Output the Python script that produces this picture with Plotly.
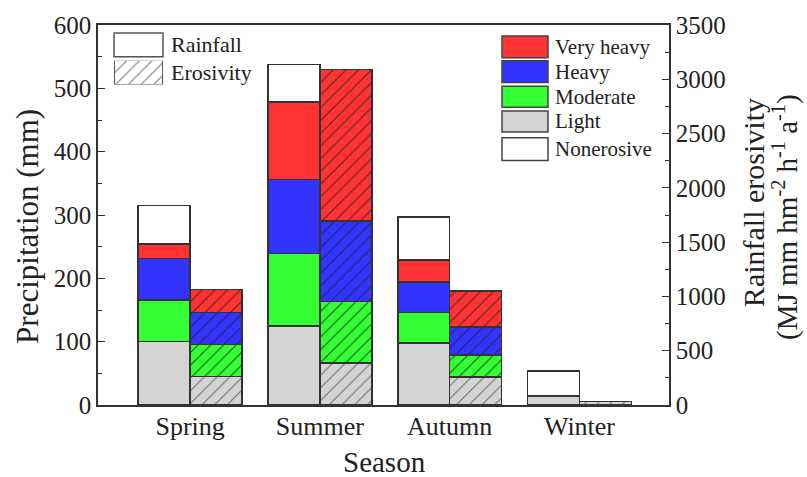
import plotly.graph_objects as go

seasons = ["Spring", "Summer", "Autumn", "Winter"]
classes = ["Light", "Moderate", "Heavy", "Very heavy", "Nonerosive"]
colors = {"Light": "#d4d4d4", "Moderate": "#33ff33", "Heavy": "#3333ff",
          "Very heavy": "#ff3333", "Nonerosive": "#ffffff"}

# Rainfall amount (mm) per rainfall class
rain_light = [100.5, 124.5, 98, 14]
rain_moderate = [65.5, 115, 48, 0]
rain_heavy = [65, 116.3, 48, 0]
rain_veryheavy = [23, 122.8, 35, 0]
rain_nonerosive = [61, 58.9, 68, 39.6]

# Rainfall erosivity (MJ mm hm-2 h-1 a-1) per rainfall class
ero_light = [264, 389, 258, 30]
ero_moderate = [292, 565, 204, 0]
ero_heavy = [294, 741, 255, 0]
ero_veryheavy = [214, 1395, 331, 0]
ero_nonerosive = [0, 0, 0, 0]

rain = dict(zip(classes, [rain_light, rain_moderate, rain_heavy, rain_veryheavy, rain_nonerosive]))
ero = dict(zip(classes, [ero_light, ero_moderate, ero_heavy, ero_veryheavy, ero_nonerosive]))

FONT = "Liberation Serif"
W, H = 807, 477
L, R, T, B = 98, 669, 21, 405

def pxx(x):
    return (x - L) / (R - L)

def pyy(y):
    return (B - y) / (B - T)

fig = go.Figure()
BW = 0.4
for c in classes:
    fig.add_trace(go.Bar(
        x=seasons, y=rain[c], name=c, offset=-BW, width=BW,
        marker=dict(color=colors[c], line=dict(color="#333333", width=1.5)),
        showlegend=False, xaxis="x", yaxis="y"))
for c in classes:
    if c == "Nonerosive":
        continue
    fg = "#555555" if c == "Light" else "#222222"
    fig.add_trace(go.Bar(
        x=seasons, y=ero[c], name=c + " erosivity", offset=0, width=BW,
        marker=dict(color=colors[c], line=dict(color="#333333", width=1.5),
                    pattern=dict(shape="/", size=9, solidity=0.12, fgcolor=fg,
                                 bgcolor=colors[c], fgopacity=0.8)),
        showlegend=False, xaxis="x", yaxis="y2"))

# hatched swatch for the "Erosivity" legend entry
fig.add_trace(go.Bar(
    x=[0], y=[1], width=1, xaxis="x3", yaxis="y3", showlegend=False, hoverinfo="skip",
    marker=dict(color="#ffffff", line=dict(color="#555555", width=1.5),
                pattern=dict(shape="/", size=9, solidity=0.12, fgcolor="#666666",
                             bgcolor="#ffffff", fgopacity=0.9))))

shapes = []
annotations = []

# legend 1
shapes.append(dict(type="rect", xref="paper", yref="paper",
                   x0=pxx(114), x1=pxx(163), y0=pyy(53), y1=pyy(29),
                   line=dict(color="#555555", width=1.5), fillcolor="#ffffff"))
for txt, yc in [("Rainfall", 41), ("Erosivity", 69)]:
    annotations.append(dict(text=txt, xref="paper", yref="paper", x=pxx(169), y=pyy(yc),
                            xanchor="left", yanchor="middle", showarrow=False,
                            font=dict(family=FONT, size=22, color="#222222")))

# legend 2
leg2 = [("Very heavy", 32, 54), ("Heavy", 57, 79), ("Moderate", 83, 104),
        ("Light", 108, 129), ("Nonerosive", 135, 158)]
for name, y0, y1 in leg2:
    shapes.append(dict(type="rect", xref="paper", yref="paper",
                       x0=pxx(502), x1=pxx(548), y0=pyy(y1), y1=pyy(y0),
                       line=dict(color="#444444", width=1.5), fillcolor=colors[name]))
    annotations.append(dict(text=name, xref="paper", yref="paper", x=pxx(553),
                            y=pyy((y0 + y1) / 2), xanchor="left", yanchor="middle",
                            showarrow=False, font=dict(family=FONT, size=21, color="#222222")))

# axis titles
annotations.append(dict(text="Precipitation (mm)", xref="paper", yref="paper",
                        x=pxx(28), y=pyy(225), textangle=-90, showarrow=False,
                        xanchor="center", yanchor="middle",
                        font=dict(family=FONT, size=31, color="#222222")))
annotations.append(dict(text="Rainfall erosivity", xref="paper", yref="paper",
                        x=pxx(753), y=pyy(201), textangle=-90, showarrow=False,
                        xanchor="center", yanchor="middle",
                        font=dict(family=FONT, size=30, color="#222222")))
annotations.append(dict(text="(MJ mm hm<sup>-2</sup> h<sup>-1</sup> a<sup>-1</sup>)",
                        xref="paper", yref="paper",
                        x=pxx(786), y=pyy(215), textangle=-90, showarrow=False,
                        xanchor="center", yanchor="middle",
                        font=dict(family=FONT, size=29, color="#222222")))
annotations.append(dict(text="Season", xref="paper", yref="paper",
                        x=pxx(384), y=pyy(463), showarrow=False,
                        xanchor="center", yanchor="middle",
                        font=dict(family=FONT, size=29, color="#222222")))

axcol = "#333333"
fig.update_layout(
    width=W, height=H,
    margin=dict(l=L, r=W - R, t=T, b=H - B, pad=0),
    paper_bgcolor="white", plot_bgcolor="white",
    barmode="stack",
    font=dict(family=FONT, size=25, color="#222222"),
    xaxis=dict(type="category", range=[-0.71, 3.69], showline=True, linecolor=axcol,
               linewidth=1.5, mirror=True, ticks="", showgrid=False,
               ticklabelstandoff=-3,
               tickfont=dict(family=FONT, size=26)),
    yaxis=dict(range=[0, 600], dtick=100, showline=True, linecolor=axcol, linewidth=1.5,
               ticks="inside", ticklen=7, tickcolor=axcol, showgrid=False, zeroline=False,
               minor=dict(ticks="inside", ticklen=4, dtick=50, tickcolor=axcol),
               tickfont=dict(family=FONT, size=25)),
    yaxis2=dict(range=[0, 3500], dtick=500, overlaying="y", side="right", showline=True,
                linecolor=axcol, linewidth=1.5, ticks="inside", ticklen=7, tickcolor=axcol,
                showgrid=False, zeroline=False,
                minor=dict(ticks="inside", ticklen=4, dtick=250, tickcolor=axcol),
                tickfont=dict(family=FONT, size=25)),
    xaxis3=dict(domain=[pxx(114), pxx(163)], range=[-0.5, 0.5], visible=False,
                anchor="y3", fixedrange=True),
    yaxis3=dict(domain=[pyy(81), pyy(57)], range=[0, 1], visible=False,
                anchor="x3", fixedrange=True),
    shapes=shapes, annotations=annotations,
)

fig.write_html("out.html")
